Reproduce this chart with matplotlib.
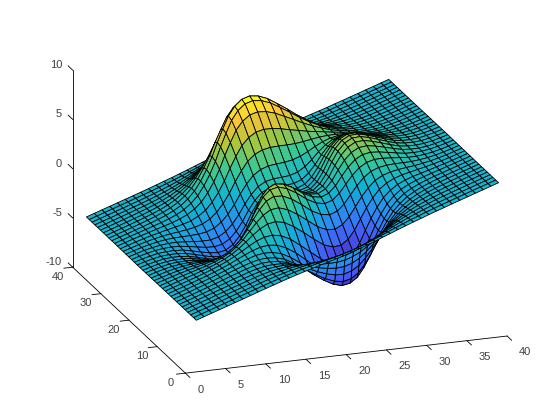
import numpy as np
import matplotlib
matplotlib.use("Agg")
import matplotlib.pyplot as plt
from matplotlib.colors import LinearSegmentedColormap, Normalize

plt.rcParams["axes.unicode_minus"] = False

# hand estimated heights, one row per y index (1..40), one column per x index (1..40)
z_rows = [
[0,0,0,0,0,0,0,0,.01,.01,0,0,-.01,-.03,-.06,-.09,-.13,-.17,-.21,-.24,-.25,-.25,-.24,-.22,-.18,-.15,-.11,-.08,-.05,-.04,-.02,-.01,-.01,0,0,0,0,0,0,0],
[0,0,0,0,0,0,0,.01,.01,.01,0,-.01,-.03,-.06,-.11,-.17,-.24,-.32,-.39,-.44,-.47,-.48,-.45,-.40,-.34,-.27,-.21,-.15,-.10,-.07,-.04,-.02,-.01,-.01,0,0,0,0,0,0],
[0,0,0,0,0,.01,.01,.01,.01,.01,0,-.02,-.06,-.12,-.21,-.32,-.45,-.59,-.71,-.81,-.86,-.86,-.82,-.73,-.62,-.49,-.37,-.27,-.18,-.12,-.07,-.04,-.02,-.01,-.01,0,0,0,0,0],
[0,0,0,0,.01,.01,.01,.01,.02,.01,0,-.04,-.11,-.21,-.35,-.54,-.75,-.99,-1.18,-1.34,-1.43,-1.43,-1.35,-1.20,-1.02,-.81,-.61,-.44,-.29,-.19,-.11,-.06,-.03,-.02,-.01,0,0,0,0,0],
[0,0,0,0,.01,.01,.02,.02,.02,.02,-.01,-.06,-.17,-.33,-.55,-.86,-1.19,-1.56,-1.87,-2.12,-2.26,-2.26,-2.15,-1.91,-1.62,-1.28,-.96,-.69,-.46,-.29,-.17,-.10,-.05,-.02,-.01,0,0,0,0,0],
[0,0,0,.01,.01,.02,.02,.03,.04,.03,-.01,-.08,-.23,-.46,-.78,-1.21,-1.69,-2.23,-2.68,-3.04,-3.25,-3.26,-3.10,-2.76,-2.33,-1.84,-1.39,-.99,-.65,-.42,-.24,-.13,-.07,-.03,-.01,-.01,0,0,0,0],
[0,0,0,.01,.01,.02,.03,.05,.05,.05,.01,-.09,-.28,-.57,-.99,-1.57,-2.22,-2.94,-3.56,-4.06,-4.36,-4.38,-4.17,-3.71,-3.14,-2.48,-1.86,-1.32,-.87,-.55,-.31,-.17,-.09,-.04,-.02,-.01,0,0,0,0],
[0,0,0,.01,.02,.03,.04,.07,.08,.09,.05,-.04,-.26,-.61,-1.11,-1.82,-2.64,-3.56,-4.37,-5.02,-5.44,-5.50,-5.25,-4.68,-3.96,-3.12,-2.34,-1.65,-1.07,-.66,-.37,-.20,-.10,-.04,-.01,0,0,0,0,0],
[0,0,0,.01,.02,.03,.05,.09,.12,.14,.13,.06,-.15,-.50,-1.04,-1.84,-2.77,-3.85,-4.82,-5.63,-6.17,-6.29,-6.04,-5.40,-4.57,-3.58,-2.67,-1.86,-1.18,-.72,-.38,-.19,-.08,-.03,0,0,0,0,0,0],
[0,0,0,.01,.02,.03,.06,.10,.15,.21,.24,.23,.09,-.21,-.71,-1.50,-2.48,-3.65,-4.74,-5.68,-6.35,-6.55,-6.35,-5.71,-4.82,-3.76,-2.77,-1.89,-1.16,-.67,-.32,-.14,-.04,.01,.02,.02,.01,.01,0,0],
[0,0,0,0,.01,.02,.05,.10,.17,.27,.37,.45,.44,.28,-.09,-.76,-1.67,-2.83,-3.97,-5.02,-5.82,-6.15,-6.04,-5.47,-4.61,-3.55,-2.55,-1.67,-.95,-.48,-.16,-.01,.05,.07,.06,.04,.03,.02,.01,.01],
[0,0,-.01,-.01,-.01,0,.03,.08,.16,.30,.47,.67,.83,.86,.71,.26,-.49,-1.54,-2.66,-3.75,-4.66,-5.12,-5.15,-4.70,-3.94,-2.96,-2.03,-1.21,-.56,-.16,.09,.18,.19,.15,.11,.08,.04,.02,.01,.01],
[-.01,-.01,-.02,-.03,-.04,-.04,-.03,.01,.09,.25,.50,.82,1.19,1.47,1.62,1.50,1.03,.19,-.83,-1.91,-2.92,-3.52,-3.72,-3.45,-2.84,-2.00,-1.19,-.49,.04,.33,.45,.45,.37,.28,.19,.12,.07,.04,.02,.01],
[-.01,-.02,-.03,-.05,-.08,-.11,-.13,-.12,-.06,.09,.38,.79,1.33,1.85,2.29,2.50,2.33,1.74,.86,-.17,-1.23,-1.94,-2.27,-2.15,-1.67,-.97,-.27,.30,.71,.87,.87,.75,.59,.41,.28,.17,.10,.05,.03,.01],
[-.01,-.03,-.05,-.08,-.13,-.20,-.26,-.31,-.31,-.20,.09,.54,1.21,1.93,2.62,3.15,3.27,2.94,2.23,1.26,.20,-.58,-1.00,-.99,-.60,.02,.63,1.11,1.40,1.44,1.31,1.09,.82,.57,.38,.23,.13,.07,.04,.02],
[-.02,-.04,-.07,-.12,-.21,-.31,-.44,-.57,-.66,-.63,-.41,.03,.76,1.62,2.51,3.31,3.70,3.62,3.07,2.20,1.17,.37,-.07,-.09,.29,.89,1.47,1.89,2.09,2.03,1.78,1.44,1.08,.73,.48,.29,.16,.09,.04,.02],
[-.03,-.05,-.09,-.16,-.28,-.43,-.62,-.85,-1.04,-1.12,-1.01,-.63,.09,1.00,2.01,2.99,3.56,3.67,3.26,2.48,1.51,.75,.34,.38,.81,1.47,2.07,2.49,2.65,2.52,2.17,1.74,1.30,.88,.58,.35,.20,.11,.05,.03],
[-.03,-.06,-.11,-.20,-.35,-.55,-.81,-1.14,-1.44,-1.66,-1.68,-1.41,-.76,.15,1.21,2.30,3.02,3.27,2.99,2.31,1.43,.75,.42,.56,1.09,1.85,2.52,2.97,3.12,2.94,2.52,2.02,1.50,1.01,.66,.40,.22,.12,.06,.03],
[-.03,-.07,-.13,-.23,-.41,-.65,-.96,-1.37,-1.77,-2.10,-2.24,-2.09,-1.53,-.66,.39,1.53,2.32,2.68,2.50,1.92,1.15,.56,.33,.58,1.20,2.05,2.78,3.26,3.42,3.22,2.75,2.20,1.63,1.10,.72,.44,.24,.13,.07,.03],
[-.04,-.07,-.14,-.25,-.45,-.71,-1.06,-1.53,-2.01,-2.42,-2.68,-2.62,-2.16,-1.36,-.34,.80,1.64,2.06,1.98,1.50,.83,.34,.20,.54,1.24,2.15,2.92,3.42,3.58,3.36,2.87,2.29,1.70,1.14,.75,.46,.25,.14,.07,.03],
[-.04,-.08,-.15,-.26,-.46,-.74,-1.11,-1.61,-2.12,-2.60,-2.93,-2.96,-2.59,-1.88,-.92,.18,1.02,1.49,1.48,1.09,.54,.14,.08,.48,1.22,2.15,2.92,3.42,3.57,3.35,2.86,2.28,1.69,1.14,.75,.45,.25,.14,.07,.03],
[-.04,-.07,-.14,-.25,-.45,-.72,-1.08,-1.58,-2.10,-2.59,-2.96,-3.04,-2.75,-2.12,-1.25,-.23,.57,1.05,1.09,.79,.33,.01,.01,.43,1.16,2.05,2.79,3.26,3.41,3.19,2.72,2.17,1.61,1.08,.71,.43,.24,.13,.06,.03],
[-.03,-.07,-.13,-.23,-.42,-.67,-1.01,-1.48,-1.97,-2.44,-2.81,-2.92,-2.69,-2.15,-1.38,-.45,.29,.75,.83,.60,.23,-.02,.01,.42,1.08,1.90,2.57,2.99,3.12,2.92,2.49,1.98,1.47,.99,.65,.39,.22,.12,.06,.03],
[-.03,-.06,-.11,-.20,-.36,-.58,-.88,-1.29,-1.72,-2.14,-2.46,-2.57,-2.38,-1.91,-1.23,-.41,.27,.72,.83,.67,.39,.19,.22,.55,1.10,1.77,2.32,2.65,2.74,2.55,2.16,1.72,1.27,.85,.56,.34,.19,.10,.05,.02],
[-.02,-.05,-.09,-.17,-.30,-.48,-.73,-1.07,-1.42,-1.76,-2.01,-2.07,-1.87,-1.42,-.79,-.02,.63,1.09,1.25,1.17,.95,.77,.75,.96,1.34,1.81,2.18,2.39,2.40,2.20,1.85,1.46,1.07,.72,.47,.28,.16,.08,.04,.02],
[-.02,-.04,-.07,-.13,-.23,-.37,-.56,-.81,-1.06,-1.29,-1.43,-1.40,-1.13,-.65,0,.79,1.48,2.01,2.26,2.27,2.11,1.91,1.79,1.80,1.92,2.10,2.22,2.24,2.13,1.89,1.55,1.20,.87,.58,.38,.23,.12,.07,.03,.02],
[-.01,-.03,-.05,-.10,-.17,-.27,-.40,-.57,-.72,-.84,-.86,-.71,-.34,.23,.96,1.83,2.61,3.26,3.62,3.72,3.61,3.38,3.12,2.88,2.72,2.58,2.44,2.24,1.98,1.67,1.32,1.00,.71,.47,.30,.18,.10,.05,.03,.01],
[-.01,-.02,-.04,-.07,-.11,-.18,-.25,-.34,-.41,-.42,-.30,-.04,.46,1.14,1.99,2.98,3.88,4.67,5.15,5.36,5.28,4.99,4.58,4.09,3.64,3.17,2.75,2.34,1.92,1.53,1.15,.84,.58,.37,.23,.14,.08,.04,.02,.01],
[-.01,-.01,-.02,-.04,-.07,-.10,-.13,-.15,-.13,-.04,.19,.57,1.19,1.99,2.96,4.08,5.10,6.04,6.64,6.93,6.88,6.53,5.98,5.26,4.53,3.77,3.09,2.47,1.90,1.43,1.02,.71,.48,.30,.18,.11,.06,.03,.01,.01],
[0,-.01,-.01,-.02,-.03,-.04,-.04,-.02,.05,.21,.51,.96,1.66,2.52,3.54,4.73,5.82,6.83,7.50,7.84,7.81,7.43,6.80,5.93,5.03,4.09,3.25,2.50,1.84,1.34,.91,.61,.40,.24,.14,.08,.04,.02,.01,0],
[0,0,-.01,-.01,-.01,0,.02,.07,.18,.36,.70,1.18,1.88,2.74,3.76,4.92,6.01,7.01,7.69,8.05,8.03,7.65,7.00,6.08,5.12,4.09,3.19,2.40,1.72,1.21,.79,.52,.33,.19,.11,.06,.03,.02,.01,0],
[0,0,0,0,.01,.02,.05,.11,.22,.42,.75,1.20,1.86,2.65,3.59,4.66,5.65,6.58,7.21,7.55,7.54,7.19,6.57,5.69,4.77,3.79,2.93,2.17,1.52,1.05,.68,.43,.26,.15,.08,.05,.02,.01,.01,0],
[0,0,0,0,.01,.03,.06,.12,.22,.40,.69,1.08,1.65,2.33,3.12,4.03,4.88,5.67,6.21,6.51,6.50,6.20,5.67,4.90,4.10,3.24,2.48,1.83,1.27,.86,.55,.34,.21,.11,.06,.03,.02,.01,0,0],
[0,0,0,0,.01,.02,.05,.11,.19,.33,.57,.88,1.33,1.86,2.48,3.19,3.85,4.48,4.90,5.14,5.14,4.90,4.47,3.87,3.23,2.54,1.94,1.42,.98,.66,.41,.26,.15,.08,.05,.02,.01,0,0,0],
[0,0,0,0,.01,.02,.04,.08,.15,.26,.43,.66,.99,1.39,1.84,2.37,2.86,3.32,3.63,3.81,3.81,3.63,3.32,2.86,2.39,1.88,1.43,1.04,.71,.48,.30,.18,.11,.06,.03,.02,.01,0,0,0],
[0,0,0,0,.01,.02,.03,.06,.11,.18,.30,.46,.69,.96,1.28,1.64,1.98,2.30,2.51,2.63,2.63,2.51,2.29,1.98,1.65,1.30,.98,.72,.49,.33,.20,.12,.07,.04,.02,.01,.01,0,0,0],
[0,0,0,0,0,.01,.02,.04,.07,.12,.19,.30,.44,.61,.81,1.04,1.25,1.45,1.58,1.66,1.66,1.58,1.45,1.25,1.04,.82,.62,.45,.31,.20,.13,.08,.05,.02,.01,.01,0,0,0,0],
[0,0,0,0,0,.01,.01,.02,.04,.07,.12,.18,.27,.37,.49,.63,.75,.87,.96,1.00,1.00,.96,.87,.76,.63,.49,.37,.27,.18,.12,.07,.05,.03,.01,.01,0,0,0,0,0],
[0,0,0,0,0,0,.01,.01,.02,.04,.07,.10,.15,.21,.27,.35,.42,.48,.53,.56,.56,.53,.48,.42,.35,.27,.21,.15,.10,.07,.04,.02,.01,.01,0,0,0,0,0,0],
[0,0,0,0,0,0,0,0,.01,.02,.04,.05,.08,.11,.15,.19,.22,.26,.28,.30,.30,.28,.26,.22,.19,.15,.11,.08,.05,.04,.02,.01,.01,0,0,0,0,0,0,0],
]

x_ticks = [0, 5, 10, 15, 20, 25, 30, 35, 40]
y_ticks = [0, 10, 20, 30, 40]
z_ticks = [-10, -5, 0, 5, 10]

# colour stops of the map
stop_pos = [0, .143, .286, .429, .571, .714, .857, 1]
stops = [(.2422, .1504, .6603), (.2810, .3228, .9579), (.1786, .5289, .9682),
         (.0689, .6948, .8394), (.2161, .7843, .5923), (.6720, .7793, .2227),
         (.9970, .7659, .2199), (.9769, .9839, .0805)]
parula = LinearSegmentedColormap.from_list("parula", list(zip(stop_pos, stops)))

Z = np.array(z_rows, dtype=float)
X, Y = np.meshgrid(np.arange(1, 41), np.arange(1, 41))

# the surface sits tilted in the box, turned around the y direction
tilt = np.radians(15.5)
Xt = 20.5 + (X - 20.5) * np.cos(tilt) - Z * np.sin(tilt)
Zt = 0.15 + (X - 20.5) * np.sin(tilt) + Z * np.cos(tilt)

fig = plt.figure(figsize=(5.6, 4.2), dpi=100)
ax = fig.add_axes([.05, -.1071, .9107, 1.2143], projection="3d", proj_type="ortho")
ax.view_init(elev=19.23, azim=-109.3)
ax.set_box_aspect((330, 330, 202), zoom=1)

colors = parula(Normalize(Z.min(), Z.max())(Z))
ax.plot_surface(Xt, Y, Zt, facecolors=colors, rstride=1, cstride=1, shade=False,
                edgecolor="black", linewidth=0.6)

ax.set_xlim(0, 40, view_margin=0)
ax.set_ylim(0, 40, view_margin=0)
ax.set_zlim(-10, 10, view_margin=0)
ax.set_xticks(x_ticks)
ax.set_yticks(y_ticks)
ax.set_zticks(z_ticks)

ax.grid(False)
for axis in (ax.xaxis, ax.yaxis, ax.zaxis):
    axis.set_pane_color((1, 1, 1, 0))
    axis.pane.set_edgecolor((1, 1, 1, 0))
    axis.line.set_linewidth(0.6)
    axis._axinfo["tick"]["linewidth"] = {True: 0.6, False: 0.6}
ax.xaxis.set_ticks_position("lower")
ax.yaxis.set_ticks_position("lower")
ax.zaxis.set_ticks_position("upper")
ax.zaxis._get_tickdir = lambda pos: 1
# push each axis' labels along its tick direction only
ax.xaxis._axmask = lambda: (False, True, False)
ax.yaxis._axmask = lambda: (True, False, .3)
ax.zaxis._axmask = lambda: (False, True, False)
ax.xaxis._axinfo["tick"].update(inward_factor=.5, outward_factor=0)
ax.yaxis._axinfo["tick"].update(inward_factor=.34, outward_factor=0)
ax.zaxis._axinfo["tick"].update(inward_factor=0, outward_factor=.5)
ax.tick_params(labelsize=8, labelcolor="#404040")
ax.xaxis.set_tick_params(pad=12.6)
ax.yaxis.set_tick_params(pad=1)
ax.zaxis.set_tick_params(pad=10)
for lab in ax.get_xticklabels() + ax.get_yticklabels() + ax.get_zticklabels():
    lab.set_fontfamily("Liberation Sans")
for lab in ax.get_xticklabels():
    lab.set_ha("left")
for lab in ax.get_yticklabels():
    lab.set_va("top")
for lab in ax.get_zticklabels():
    lab.set_ha("right")

fig.savefig("out.png", dpi=100)
